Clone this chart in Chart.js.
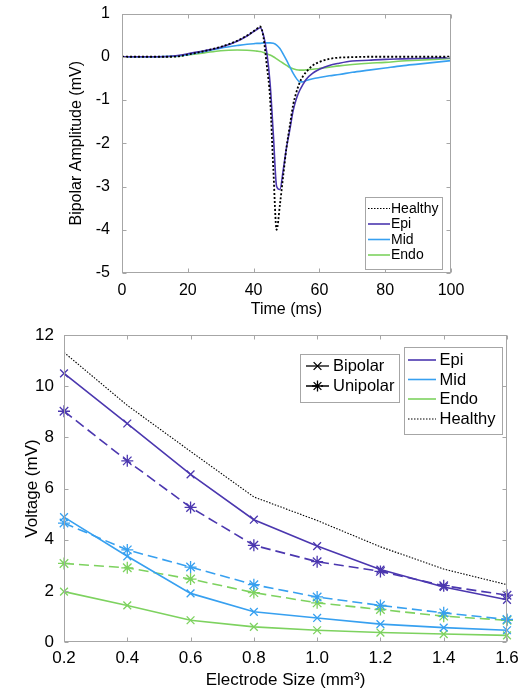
<!DOCTYPE html>
<html>
<head>
<meta charset="utf-8">
<script src="https://cdn.jsdelivr.net/npm/chart.js@4.4.1/dist/chart.umd.min.js"></script>
<style>
  body { margin: 0; background: #fff; }
  #wrap { position: relative; width: 527px; height: 693px; }
  canvas { position: absolute; left: 0; }
  #chart1 { top: 0; }
  #chart2 { top: 320px; }
</style>
</head>
<body>
<div id="wrap">
  <canvas id="chart1" width="527" height="320"></canvas>
  <canvas id="chart2" width="527" height="373"></canvas>
</div>
<script>
// bipolar traces (ms, mV)
const times = [0, 10, 15, 18, 20, 25, 30, 35, 38, 40, 41, 42, 43, 44, 45, 46, 47, 48, 49, 50,
               51, 52, 53, 54, 55, 56, 58, 60, 63, 66, 70, 75, 80, 85, 90, 95, 100];
const healthyTrace = [0, 0, 0, 0.02, 0.05, 0.13, 0.23, 0.37, 0.49, 0.59, 0.65, 0.7, 0.45, -0.2, -0.95, -2.6, -4.0, -3.42, -2.75, -2.1,
                      -1.6, -1.12, -0.82, -0.6, -0.45, -0.35, -0.2, -0.12, -0.05, -0.02, -0.01, 0, 0, 0, 0, 0, 0];
const epiTrace = [0, 0, 0.01, 0.04, 0.07, 0.14, 0.22, 0.36, 0.48, 0.58, 0.63, 0.67, 0.5, 0.1, -0.6, -1.8, -3.0, -3.07, -2.62, -2.1,
                  -1.69, -1.25, -0.97, -0.78, -0.64, -0.52, -0.38, -0.29, -0.2, -0.15, -0.1, -0.08, -0.06, -0.05, -0.04, -0.03, -0.02];
const midTrace = [0, 0, 0.01, 0.03, 0.05, 0.12, 0.2, 0.26, 0.29, 0.3, 0.31, 0.31, 0.32, 0.32, 0.32, 0.31, 0.27, 0.19, 0.06, -0.08,
                  -0.23, -0.38, -0.5, -0.58, -0.58, -0.55, -0.51, -0.48, -0.44, -0.41, -0.36, -0.31, -0.26, -0.21, -0.17, -0.13, -0.09];
const endoTrace = [0, 0, 0.005, 0.02, 0.04, 0.09, 0.14, 0.155, 0.15, 0.14, 0.13, 0.12, 0.1, 0.07, 0.04, 0, -0.05, -0.1, -0.15, -0.2,
                   -0.25, -0.28, -0.3, -0.31, -0.31, -0.3, -0.29, -0.27, -0.24, -0.21, -0.18, -0.15, -0.13, -0.1, -0.08, -0.06, -0.04];

// peak voltage vs electrode size (mm^3, mV)
const sizes = [0.2, 0.4, 0.6, 0.8, 1.0, 1.2, 1.4, 1.6];
const epiBipolar = [10.5, 8.54, 6.55, 4.78, 3.75, 2.83, 2.15, 1.65];
const epiUnipolar = [9.02, 7.08, 5.26, 3.78, 3.14, 2.76, 2.2, 1.83];
const midBipolar = [4.88, 3.35, 1.9, 1.18, 0.94, 0.7, 0.56, 0.46];
const midUnipolar = [4.65, 3.6, 2.93, 2.24, 1.76, 1.43, 1.14, 0.88];
const endoBipolar = [1.97, 1.43, 0.85, 0.59, 0.46, 0.37, 0.31, 0.26];
const endoUnipolar = [3.07, 2.9, 2.46, 1.93, 1.53, 1.27, 1.01, 0.85];
const healthyVoltage = [11.32, 9.25, 7.45, 5.67, 4.75, 3.72, 2.85, 2.24];

const EPI = '#4b37af';
const MID = '#37a0f0';
const ENDO = '#7dd25f';
const AXIS_GRAY = '#a6a6a6';
const FONT = '"Liberation Sans", Arial, Helvetica, sans-serif';

Chart.defaults.font.family = FONT;
Chart.defaults.color = '#000';

function toPoints(xs, ys) {
  return xs.map((x, i) => ({ x: x, y: ys[i] }));
}

// fixed axis sizes, no extra label padding around the plot area
function fixX(h) {
  return s => { s.height = h; s.paddingLeft = 0; s.paddingRight = 0; };
}
function fixY(w) {
  return s => { s.width = w; s.paddingTop = 0; s.paddingBottom = 0; };
}

// axes box with inward ticks on all four sides
const boxPlugin = {
  id: 'axesBox',
  afterDatasetsDraw(chart) {
    const { ctx, chartArea: a, scales } = chart;
    const len = 4;
    const L = Math.round(a.left) + 0.5, R = Math.round(a.right) - 0.5;
    const T = Math.round(a.top) + 0.5, B = Math.round(a.bottom) - 0.5;
    ctx.save();
    ctx.strokeStyle = AXIS_GRAY;
    ctx.lineWidth = 1;
    ctx.strokeRect(L, T, R - L, B - T);
    ctx.beginPath();
    scales.x.ticks.forEach(t => {
      const px = Math.round(scales.x.getPixelForValue(t.value)) + 0.5;
      ctx.moveTo(px, B); ctx.lineTo(px, B - len);
      ctx.moveTo(px, T); ctx.lineTo(px, T + len);
    });
    scales.y.ticks.forEach(t => {
      const py = Math.round(scales.y.getPixelForValue(t.value)) + 0.5;
      ctx.moveTo(L, py); ctx.lineTo(L + len, py);
      ctx.moveTo(R, py); ctx.lineTo(R - len, py);
    });
    ctx.stroke();
    ctx.restore();
  }
};

// boxed legends placed inside the axes
const legendPlugin = {
  id: 'boxLegend',
  afterDraw(chart, args, opts) {
    const ctx = chart.ctx;
    opts.boxes.forEach(box => {
      ctx.save();
      ctx.fillStyle = '#fff';
      ctx.strokeStyle = AXIS_GRAY;
      ctx.lineWidth = 1;
      ctx.fillRect(box.x + 0.5, box.y + 0.5, box.w, box.h);
      ctx.strokeRect(box.x + 0.5, box.y + 0.5, box.w, box.h);
      box.rows.forEach(row => {
        ctx.strokeStyle = row.color;
        ctx.lineWidth = row.width;
        ctx.setLineDash(row.dash || []);
        ctx.beginPath();
        ctx.moveTo(box.x0, row.y);
        ctx.lineTo(box.x1, row.y);
        ctx.stroke();
        ctx.setLineDash([]);
        if (row.marker) {
          ctx.lineWidth = 1.3;
          Chart.helpers.drawPoint(ctx, { pointStyle: row.marker, radius: 5.5, rotation: 0, borderWidth: 1.3 },
            (box.x0 + box.x1) / 2, row.y);
        }
        ctx.fillStyle = '#000';
        ctx.font = box.font + 'px ' + FONT;
        ctx.textBaseline = 'middle';
        ctx.textAlign = 'left';
        ctx.fillText(row.label, box.tx, row.y + 0.5);
      });
      ctx.restore();
    });
  }
};

const traceLine = { pointRadius: 0, cubicInterpolationMode: 'monotone', borderWidth: 1.6 };

new Chart(document.getElementById('chart1'), {
  type: 'line',
  data: {
    datasets: [
      { label: 'Healthy', data: toPoints(times, healthyTrace), borderColor: '#000', borderDash: [2, 2], order: 0, ...traceLine, borderWidth: 1.8 },
      { label: 'Epi', data: toPoints(times, epiTrace), borderColor: EPI, order: 1, ...traceLine },
      { label: 'Mid', data: toPoints(times, midTrace), borderColor: MID, order: 2, ...traceLine },
      { label: 'Endo', data: toPoints(times, endoTrace), borderColor: ENDO, order: 3, ...traceLine }
    ]
  },
  options: {
    responsive: false,
    animation: false,
    devicePixelRatio: 1,
    layout: { padding: { top: 13.5, right: 76, left: 0, bottom: 0 } },
    plugins: {
      legend: { display: false },
      tooltip: { enabled: false },
      boxLegend: {
        boxes: [{
          x: 365, y: 197, w: 77, h: 72, x0: 368, x1: 390, tx: 391, font: 14,
          rows: [
            { label: 'Healthy', y: 208.5, color: '#000', width: 1.2, dash: [1.5, 1.5] },
            { label: 'Epi', y: 224, color: EPI, width: 1.6 },
            { label: 'Mid', y: 239.5, color: MID, width: 1.6 },
            { label: 'Endo', y: 255, color: ENDO, width: 1.6 }
          ]
        }]
      }
    },
    scales: {
      x: {
        type: 'linear', min: 0, max: 100,
        ticks: { stepSize: 20, padding: 8, font: { size: 16 }, maxRotation: 0, autoSkip: false },
        grid: { display: false, drawTicks: false }, border: { display: false },
        title: { display: true, text: 'Time (ms)', font: { size: 16 }, padding: { top: 0, bottom: 0.4 } },
        afterFit: fixX(47)
      },
      y: {
        min: -5, max: 1,
        ticks: { stepSize: 1, padding: 12, font: { size: 16 } },
        grid: { display: false, drawTicks: false }, border: { display: false },
        title: { display: true, text: 'Bipolar Amplitude (mV)', font: { size: 16 }, padding: { top: 67, bottom: 0 } },
        afterFit: fixY(122)
      }
    }
  },
  plugins: [boxPlugin, legendPlugin]
});

const solid = { borderWidth: 1.6, pointStyle: 'crossRot', pointRadius: 5.5, pointBorderWidth: 1.3, clip: false };
const dashed = { borderWidth: 1.6, borderDash: [10, 5], pointStyle: 'star', pointRadius: 6, pointBorderWidth: 1.3, clip: false };

new Chart(document.getElementById('chart2'), {
  type: 'line',
  data: {
    datasets: [
      { label: 'Epi bipolar', data: toPoints(sizes, epiBipolar), borderColor: EPI, ...solid },
      { label: 'Epi unipolar', data: toPoints(sizes, epiUnipolar), borderColor: EPI, ...dashed },
      { label: 'Mid bipolar', data: toPoints(sizes, midBipolar), borderColor: MID, ...solid },
      { label: 'Mid unipolar', data: toPoints(sizes, midUnipolar), borderColor: MID, ...dashed },
      { label: 'Endo bipolar', data: toPoints(sizes, endoBipolar), borderColor: ENDO, ...solid },
      { label: 'Endo unipolar', data: toPoints(sizes, endoUnipolar), borderColor: ENDO, ...dashed },
      { label: 'Healthy', data: toPoints(sizes, healthyVoltage), borderColor: '#000', borderWidth: 1.1, borderDash: [1.5, 1.5], pointRadius: 0 }
    ]
  },
  options: {
    responsive: false,
    animation: false,
    devicePixelRatio: 1,
    layout: { padding: { top: 15, right: 20, left: 0, bottom: 0 } },
    plugins: {
      legend: { display: false },
      tooltip: { enabled: false },
      boxLegend: {
        boxes: [{
          x: 300, y: 34, w: 99, h: 48, x0: 306, x1: 329, tx: 333, font: 16.5,
          rows: [
            { label: 'Bipolar', y: 46, color: '#000', width: 1.3, marker: 'crossRot' },
            { label: 'Unipolar', y: 66, color: '#000', width: 1.3, dash: [10, 5], marker: 'star' }
          ]
        }, {
          x: 404, y: 27, w: 98, h: 87, x0: 408, x1: 436, tx: 439.5, font: 16.5,
          rows: [
            { label: 'Epi', y: 40, color: EPI, width: 1.6 },
            { label: 'Mid', y: 59.5, color: MID, width: 1.6 },
            { label: 'Endo', y: 79, color: ENDO, width: 1.6 },
            { label: 'Healthy', y: 99, color: '#000', width: 1.1, dash: [1.5, 1.5] }
          ]
        }]
      }
    },
    scales: {
      x: {
        type: 'linear', min: 0.2, max: 1.6,
        ticks: { stepSize: 0.2, padding: 6, font: { size: 17 }, maxRotation: 0, autoSkip: false },
        grid: { display: false, drawTicks: false }, border: { display: false },
        title: { display: true, text: 'Electrode Size (mm³)', font: { size: 17 }, padding: { top: 0, bottom: 2.8 } },
        afterFit: fixX(51)
      },
      y: {
        min: 0, max: 12,
        ticks: { stepSize: 2, padding: 10, font: { size: 17 } },
        grid: { display: false, drawTicks: false }, border: { display: false },
        title: { display: true, text: 'Voltage (mV)', font: { size: 17 }, padding: { top: 21.8, bottom: 0 } },
        afterFit: fixY(64)
      }
    }
  },
  plugins: [boxPlugin, legendPlugin]
});
</script>
</body>
</html>
